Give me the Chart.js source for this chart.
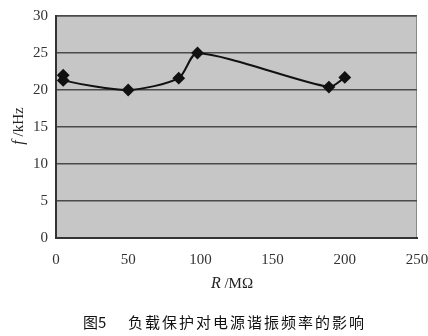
<!DOCTYPE html>
<html>
<head>
<meta charset="utf-8">
<script src="https://cdn.jsdelivr.net/npm/chart.js@4"></script>
<style>
  html, body { margin: 0; padding: 0; background: #fff; }
  #wrap { width: 428px; height: 336px; position: relative; }
</style>
</head>
<body>
<div id="wrap"><canvas id="chart" width="428" height="336"></canvas></div>
<script>
// data
const rValues = [5, 5, 50, 85, 98, 189, 200];          // R / MOhm
const fValues = [22.0, 21.3, 20.0, 21.6, 25.0, 20.4, 21.7]; // f / kHz
const xTicks = [0, 50, 100, 150, 200, 250];
const yTicks = [0, 5, 10, 15, 20, 25, 30];
const caption = ['图5', '负载保护对电源谐振频率的影响'];

const SERIF = '"Liberation Serif", "DejaVu Serif", serif';

// gray plot area + custom axis titles and caption
const decor = {
  id: 'decor',
  beforeDraw(chart) {
    const { ctx, chartArea: a } = chart;
    ctx.save();
    ctx.fillStyle = '#c6c6c6';
    ctx.fillRect(a.left, a.top, a.right - a.left, a.bottom - a.top);
    ctx.strokeStyle = '#8a8a8a';
    ctx.lineWidth = 1;
    ctx.strokeRect(a.left + 0.5, a.top + 0.5, a.right - a.left - 1, a.bottom - a.top - 1);
    ctx.restore();
  },
  afterDraw(chart) {
    const { ctx } = chart;
    ctx.save();
    ctx.fillStyle = '#222';
    ctx.textBaseline = 'middle';

    // y title
    ctx.save();
    ctx.translate(19, 126);
    ctx.rotate(-Math.PI / 2);
    ctx.font = 'italic 16px ' + SERIF;
    const fw = ctx.measureText('f').width;
    ctx.font = '15px ' + SERIF;
    const rw = ctx.measureText(' /kHz').width;
    let x0 = -(fw + rw) / 2;
    ctx.font = 'italic 16px ' + SERIF;
    ctx.textAlign = 'left';
    ctx.fillText('f', x0, 0);
    ctx.font = '15px ' + SERIF;
    ctx.fillText(' /kHz', x0 + fw, 0);
    ctx.restore();

    // x title
    ctx.font = 'italic 16px ' + SERIF;
    const rW = ctx.measureText('R').width;
    ctx.font = '15px ' + SERIF;
    const uW = ctx.measureText(' /MΩ').width;
    let xs = 232 - (rW + uW) / 2;
    ctx.textAlign = 'left';
    ctx.font = 'italic 16px ' + SERIF;
    ctx.fillText('R', xs, 284);
    ctx.font = '15px ' + SERIF;
    ctx.fillText(' /MΩ', xs + rW, 284);

    // caption
    ctx.fillStyle = '#111';
    ctx.font = '15px "Noto Sans CJK SC", sans-serif';
    ctx.fillText(caption[0], 83, 322);
    ctx.letterSpacing = '2px';
    ctx.fillText(caption[1], 128, 322);
    ctx.restore();
  }
};

new Chart(document.getElementById('chart'), {
  type: 'line',
  data: {
    datasets: [{
      data: rValues.map((r, i) => ({ x: r, y: fValues[i] })),
      borderColor: '#111',
      borderWidth: 2,
      backgroundColor: '#111',
      pointStyle: 'rectRot',
      pointRadius: 5,
      pointBackgroundColor: '#111',
      pointBorderColor: '#111',
      tension: 0.25,
      fill: false
    }]
  },
  options: {
    responsive: false,
    animation: false,
    layout: { padding: { left: 0, right: 11, top: 16, bottom: 0 } },
    plugins: { legend: { display: false }, tooltip: { enabled: false } },
    scales: {
      x: {
        type: 'linear',
        min: 0, max: 250,
        afterBuildTicks(s) { s.ticks = xTicks.map(v => ({ value: v })); },
        afterFit(s) { s.height = 98; s.paddingLeft = 0; s.paddingRight = 0; },
        grid: { display: false, drawTicks: false },
        border: { display: true, color: '#333', width: 2 },
        ticks: { color: '#333', padding: 13, font: { family: SERIF, size: 15 } }
      },
      y: {
        min: 0, max: 30,
        afterBuildTicks(s) { s.ticks = yTicks.map(v => ({ value: v })); },
        afterFit(s) { s.width = 56; s.paddingTop = 0; s.paddingBottom = 0; },
        grid: { color: '#4a4a4a', lineWidth: 1.5, drawTicks: false },
        border: { display: true, color: '#333', width: 2 },
        ticks: { color: '#333', padding: 8, font: { family: SERIF, size: 15 } }
      }
    }
  },
  plugins: [decor]
});
</script>
</body>
</html>
